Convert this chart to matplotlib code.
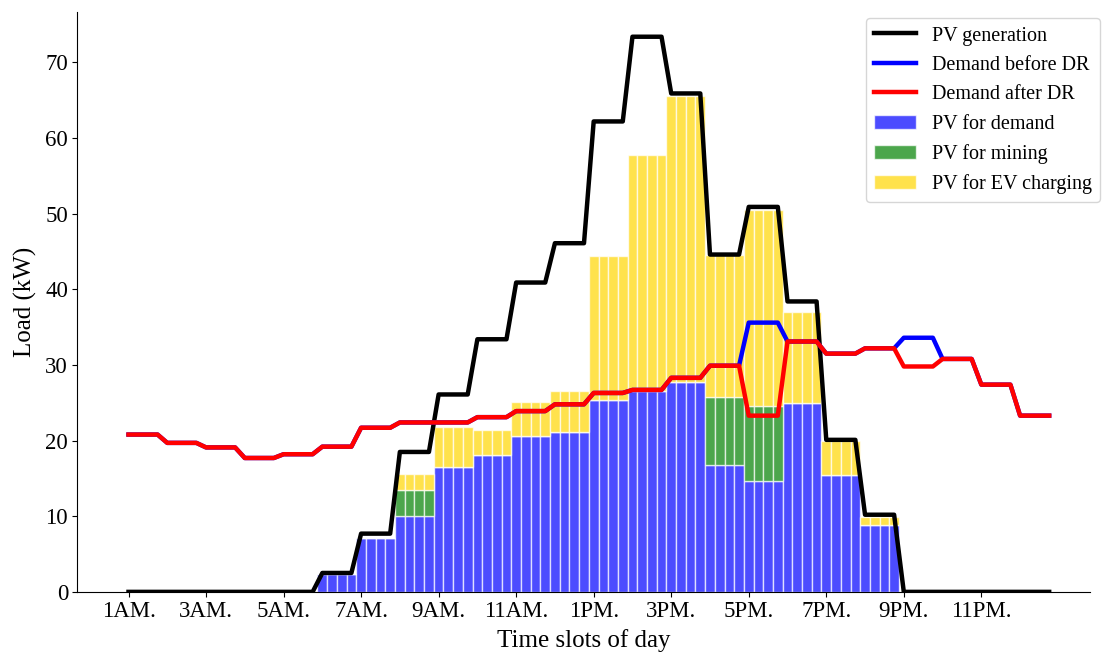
import matplotlib.pyplot as plt
import numpy as np

plt.rcParams['font.family'] = ['Liberation Serif', 'DejaVu Serif']

# hourly values (1AM ... 12AM), each hour held over four 15-min slots
pv_generation = [0, 0, 0, 0, 0, 2.5, 7.7, 18.5, 26.1, 33.4, 40.9, 46.1,
                 62.2, 73.4, 65.9, 44.6, 50.9, 38.4, 20.1, 10.2, 0, 0, 0, 0]
demand_before = [20.8, 19.7, 19.1, 17.7, 18.2, 19.2, 21.7, 22.4, 22.4, 23.1, 23.9, 24.8,
                 26.3, 26.7, 28.3, 29.9, 35.6, 33.1, 31.5, 32.2, 33.6, 30.8, 27.4, 23.3]
demand_after = [20.8, 19.7, 19.1, 17.7, 18.2, 19.2, 21.7, 22.4, 22.4, 23.1, 23.9, 24.8,
                26.3, 26.7, 28.3, 29.9, 23.3, 33.1, 31.5, 32.2, 29.8, 30.8, 27.4, 23.3]
pv_demand = [0, 0, 0, 0, 0, 2.3, 7.1, 10.0, 16.5, 18.1, 20.6, 21.2,
             25.4, 26.5, 27.7, 16.8, 14.6, 25.0, 15.5, 8.9, 0, 0, 0, 0]
pv_mining = [0, 0, 0, 0, 0, 0, 0, 3.5, 0, 0, 0, 0,
             0, 0, 0, 8.9, 10.0, 0, 0, 0, 0, 0, 0, 0]
pv_ev = [0, 0, 0, 0, 0, 0, 0, 2.1, 5.3, 3.3, 4.5, 5.3,
         19.0, 31.3, 37.9, 18.8, 25.9, 12.0, 4.4, 1.0, 0, 0, 0, 0]
tick_labels = ['1AM.', '3AM.', '5AM.', '7AM.', '9AM.', '11AM.',
               '1PM.', '3PM.', '5PM.', '7PM.', '9PM.', '11PM.']

slots_per_hour = 4
gen = np.repeat(pv_generation, slots_per_hour)
before = np.repeat(demand_before, slots_per_hour)
after = np.repeat(demand_after, slots_per_hour)
dem = np.repeat(pv_demand, slots_per_hour)
mine = np.repeat(pv_mining, slots_per_hour)
ev = np.repeat(pv_ev, slots_per_hour)
x = np.arange(len(gen))

fig = plt.figure(figsize=(11.02, 6.54), dpi=100)
ax = fig.add_axes([0.070, 0.095, 0.919, 0.887])

ax.bar(x, dem, width=1, color='blue', alpha=0.7, edgecolor='white', linewidth=1, label='PV for demand')
ax.bar(x, mine, width=1, bottom=dem, color='green', alpha=0.7, edgecolor='white', linewidth=1,
       label='PV for mining')
ax.bar(x, ev, width=1, bottom=dem + mine, color='gold', alpha=0.7, edgecolor='white', linewidth=1,
       label='PV for EV charging')

ax.plot(x, gen, color='black', lw=3.2, label='PV generation')
ax.plot(x, before, color='blue', lw=3.2, label='Demand before DR')
ax.plot(x, after, color='red', lw=3.2, label='Demand after DR')

ax.set_xlim(-5.3, 99.2)
ax.set_ylim(0, 76.7)
ax.set_xticks(np.arange(0, 96, 8))
ax.set_xticklabels(tick_labels)
ax.tick_params(labelsize=16.5, pad=3)
ax.set_xlabel('Time slots of day', fontsize=18, labelpad=5)
ax.set_ylabel('Load (kW)', fontsize=18, labelpad=6)
ax.spines['top'].set_visible(False)
ax.spines['right'].set_visible(False)

ax.legend(loc='upper right', fontsize=14.5, bbox_to_anchor=(1.02, 1.006),
          handlelength=2.1, labelspacing=0.51)

plt.savefig('out.png', dpi=100)
